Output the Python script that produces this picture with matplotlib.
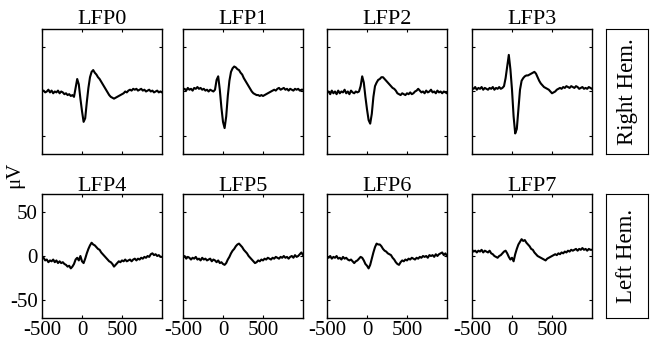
import numpy as np
from matplotlib import pyplot as plt

plt.rcParams['font.family'] = ['Liberation Serif', 'DejaVu Serif']
plt.rcParams['axes.unicode_minus'] = False

# time in ms, sampled every 20 ms
t = np.arange(-500, 1001, 20)

lfp0 = [0, 1, -1, 0, 2, -1, 1, -2, 0, -1,
        1, -2, 0, -1, -3, -2, -4, -3, -5, -4,
        -6, 4, 14, 8, -8, -22, -34, -30, -12, 4,
        16, 22, 24, 21, 19, 16, 14, 11, 8, 5,
        2, -1, -4, -6, -7, -8, -7, -6, -5, -4,
        -3, -2, 0, -1, 1, 2, 1, 3, 2, 3,
        1, 2, 3, 1, 2, 0, 1, 2, 0, 1,
        -1, 0, 1, -1, 0, -1]
lfp1 = [2, 3, 1, 4, 2, 3, 1, 4, 3, 5,
        3, 4, 2, 3, 1, 2, 0, 2, 1, 0,
        2, 13, 17, 2, -18, -34, -41, -28, -5, 12,
        22, 26, 28, 27, 25, 24, 21, 19, 15, 12,
        9, 6, 3, 0, -2, -3, -4, -4, -5, -4,
        -5, -4, -3, -2, -1, 0, 1, 2, 1, 3,
        4, 2, 3, 4, 2, 3, 1, 3, 2, 1,
        3, 2, 3, 1, 2, 2]
lfp2 = [-1, 0, -3, 1, -2, 0, -3, 1, -2, 0,
        -1, 2, -2, 0, -3, 1, -1, -2, 0, -1,
        0, 6, 17, 10, -6, -20, -32, -36, -25, -6,
        6, 10, 13, 14, 16, 16, 14, 12, 10, 8,
        6, 4, 3, 1, -2, -3, -4, -2, -3, -4,
        -2, -3, -1, -3, -2, 0, 1, 3, 1, -1,
        0, -2, 1, -1, 0, 2, -1, 0, -2, 1,
        -1, 0, -2, 0, -1, -2]
lfp3 = [4, 3, 5, 2, 4, 3, 5, 2, 4, 3,
        2, 4, 3, 5, 2, 4, 3, 5, 3, 4,
        6, 15, 28, 41, 25, 2, -28, -47, -42, -20,
        2, 12, 15, 17, 18, 18, 19, 20, 21, 22,
        20, 16, 12, 9, 7, 5, 4, 3, 2, 0,
        -2, -1, 0, 2, 3, 4, 3, 5, 4, 6,
        5, 4, 6, 5, 4, 6, 5, 3, 4, 5,
        3, 4, 3, 5, 4, 3]
lfp4 = [-3, -2, -5, -4, -7, -5, -6, -4, -7, -5,
        -8, -6, -8, -7, -9, -10, -12, -11, -14, -12,
        -9, -4, -2, -5, 0, -6, -8, -3, 3, 8,
        12, 15, 13, 12, 10, 8, 7, 4, 2, 0,
        -2, -4, -6, -7, -9, -12, -10, -8, -6, -7,
        -5, -6, -4, -6, -5, -4, -6, -4, -3, -5,
        -3, -4, -2, -3, -1, -2, 0, -1, 2, 3,
        1, 2, 0, 1, -1, -1]
lfp5 = [-2, 0, -3, -1, -2, -4, -2, -3, -1, -4,
        -3, -5, -2, -4, -3, -5, -4, -3, -6, -4,
        -5, -7, -5, -8, -7, -9, -10, -8, -4, -1,
        3, 6, 8, 11, 13, 14, 12, 10, 7, 5,
        3, 0, -2, -4, -6, -8, -7, -5, -6, -4,
        -5, -3, -4, -2, -3, -4, -2, -3, -1, -2,
        -3, -1, -2, 0, -2, -1, -3, -1, 0, -2,
        1, -1, 0, 2, 4, 1]
lfp6 = [-1, -2, 0, -3, -1, -2, 0, -3, -2, -4,
        -1, -3, -2, -4, -5, -4, -6, -8, -6, -5,
        -3, -1, -2, -5, -9, -11, -14, -10, -3, 4,
        10, 14, 13, 13, 11, 8, 6, 5, 3, 2,
        1, -2, -4, -7, -9, -10, -7, -5, -6, -4,
        -5, -3, -4, -2, -3, -4, -2, -3, -1, -2,
        0, -1, 0, -2, 1, 0, 1, -1, 2, 0,
        2, 3, 4, 1, 3, 0]
lfp7 = [7, 5, 6, 4, 6, 5, 7, 4, 6, 5,
        4, 6, 3, 2, 0, -1, -2, 0, 1, 3,
        5, 6, 3, -1, -4, -2, -6, 2, 8, 13,
        16, 19, 17, 18, 15, 13, 11, 8, 7, 4,
        2, 0, -1, -2, -3, -4, -5, -3, -2, -1,
        0, 1, 2, 1, 3, 2, 4, 3, 5, 4,
        6, 5, 7, 6, 7, 8, 6, 8, 7, 9,
        7, 8, 6, 8, 7, 7]

traces = [lfp0, lfp1, lfp2, lfp3, lfp4, lfp5, lfp6, lfp7]
names = ['LFP0', 'LFP1', 'LFP2', 'LFP3', 'LFP4', 'LFP5', 'LFP6', 'LFP7']
hemis = ['Right Hem.', 'Left Hem.']

W, H = 651, 345
fig = plt.figure(figsize=(W / 100, H / 100), dpi=100)

lefts = [42, 183, 327, 472]
rows = [(29, 154), (194, 318)]

for i in range(8):
    r, c = divmod(i, 4)
    top, bot = rows[r]
    ax = fig.add_axes([lefts[c] / W, 1 - bot / H, 120 / W, (bot - top) / H])
    ax.plot(t, traces[i], color='black', lw=1.5)
    ax.set_xlim(-500, 1000)
    ax.set_ylim(-70, 70)
    ax.set_xticks([-500, 0, 500])
    ax.set_yticks([-50, 0, 50])
    ax.tick_params(direction='in', length=2.5, width=0.8, top=True, right=True,
                   labelsize=15, pad=3)
    ax.tick_params(axis='x', pad=2)
    if r == 0:
        ax.set_xticklabels([])
    if not (r == 1 and c == 0):
        ax.set_yticklabels([])
    for s in ax.spines.values():
        s.set_linewidth(1.0)
    ax.set_title(names[i], fontsize=16, pad=2)

# hemisphere label boxes
for r in range(2):
    top, bot = rows[r]
    bx = fig.add_axes([606 / W, 1 - bot / H, 42 / W, (bot - top) / H])
    bx.set_xticks([])
    bx.set_yticks([])
    bx.text(0.5, 0.5, hemis[r], rotation=90, ha='center', va='center',
            fontsize=16.5, transform=bx.transAxes)

fig.text(15 / W, 1 - 175 / H, 'μV', rotation=90, ha='center', va='center',
         fontsize=15)

fig.savefig('out.png', dpi=100)
